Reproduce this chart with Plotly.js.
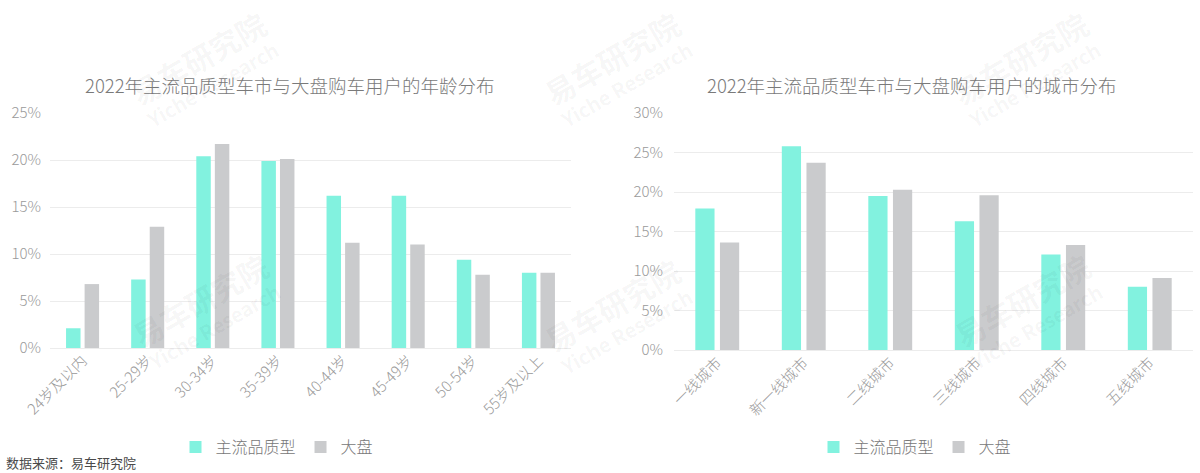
<!DOCTYPE html>
<html>
<head>
<meta charset="utf-8">
<script src="https://cdn.plot.ly/plotly-3.0.1.min.js"></script>
<style>html,body{margin:0;padding:0;background:#fff;}#chart{width:1200px;height:473px;}</style>
</head>
<body>
<div id="chart"></div>
<script>
// ---- data ----
const ageCategories = ['24岁及以内','25-29岁','30-34岁','35-39岁','40-44岁','45-49岁','50-54岁','55岁及以上'];
const ageMainstream = [2.1, 7.3, 20.4, 19.9, 16.2, 16.2, 9.4, 8.0];
const ageMarket     = [6.8, 12.9, 21.7, 20.1, 11.2, 11.0, 7.8, 8.0];

const cityCategories = ['一线城市','新一线城市','二线城市','三线城市','四线城市','五线城市'];
const cityMainstream = [17.9, 25.8, 19.5, 16.3, 12.1, 8.0];
const cityMarket     = [13.6, 23.7, 20.3, 19.6, 13.3, 9.1];

const seriesNames = ['主流品质型','大盘'];
const leftTitle = '2022年主流品质型车市与大盘购车用户的年龄分布';
const rightTitle = '2022年主流品质型车市与大盘购车用户的城市分布';
const sourceText = '数据来源：易车研究院';

const TEAL = '#82F2DF', GRAY = '#CACBCD';
const FONT = '"Noto Sans CJK SC", "Noto Sans", sans-serif';
const H = 473, W = 1200;
const py = p => 1 - p / H, px = p => p / W;

const traces = [
  {type:'bar', x:ageCategories, y:ageMainstream, name:seriesNames[0], marker:{color:TEAL}, xaxis:'x', yaxis:'y', legend:'legend'},
  {type:'bar', x:ageCategories, y:ageMarket, name:seriesNames[1], marker:{color:GRAY}, xaxis:'x', yaxis:'y', legend:'legend'},
  {type:'bar', x:cityCategories, y:cityMainstream, name:seriesNames[0], marker:{color:TEAL}, xaxis:'x2', yaxis:'y2', legend:'legend2'},
  {type:'bar', x:cityCategories, y:cityMarket, name:seriesNames[1], marker:{color:GRAY}, xaxis:'x2', yaxis:'y2', legend:'legend2'}
];

const tickFont = {family: FONT, size: 15, color: '#9a9a9a', weight: 300};
const xTickFont = {family: FONT, size: 15, color: '#9a9a9a', weight: 300};
const yCommon = {ticksuffix:'%', showgrid:true, gridcolor:'#ececec', gridwidth:1, zeroline:true, zerolinecolor:'#ececec', showline:false, tickfont:tickFont, ticks:'', fixedrange:true};
const xCommon = {tickangle:-45, tickfont:xTickFont, showline:false, ticks:'', fixedrange:true};

const annotations = [
  {text:leftTitle, xref:'paper', yref:'paper', x:px(290), y:py(85), showarrow:false, font:{family:FONT, size:18.5, color:'#7a7a7a', weight:300}, xanchor:'center', yanchor:'middle'},
  {text:rightTitle, xref:'paper', yref:'paper', x:px(912), y:py(85), showarrow:false, font:{family:FONT, size:18.5, color:'#7a7a7a', weight:300}, xanchor:'center', yanchor:'middle'},
  {text:sourceText, xref:'paper', yref:'paper', x:px(4), y:0, showarrow:false, font:{family:FONT, size:13, color:'#4a4a4a', weight:400}, xanchor:'left', yanchor:'bottom', yshift:-1}
];
// faint watermarks
const wmCenters = [[198,58],[612,58],[1020,58],[200,300],[612,305],[1022,300]];
wmCenters.forEach(([cx,cy]) => {
  annotations.push({text:'易车研究院', xref:'paper', yref:'paper', x:px(cx), y:py(cy), xanchor:'center', yanchor:'middle', showarrow:false, textangle:-30, font:{family:FONT, size:30, color:'rgba(0,0,0,0.045)', weight:700}});
  annotations.push({text:'Yiche Research', xref:'paper', yref:'paper', x:px(cx+14), y:py(cy+26), xanchor:'center', yanchor:'middle', showarrow:false, textangle:-30, font:{family:FONT, size:20, color:'rgba(0,0,0,0.045)', weight:700}});
});

const layout = {
  width: W, height: H,
  margin:{l:0, r:0, t:0, b:0},
  paper_bgcolor:'#fff', plot_bgcolor:'#fff',
  barmode:'group', bargap:0.43, bargroupgap:0.22,
  font:{family:FONT},
  xaxis: Object.assign({}, xCommon, {domain:[px(50), px(571)], anchor:'y'}),
  yaxis: Object.assign({}, yCommon, {domain:[py(348), py(113)], range:[0,25], dtick:5, anchor:'x', ticklabelstandoff:8}),
  xaxis2: Object.assign({}, xCommon, {domain:[px(674), px(1193)], anchor:'y2'}),
  yaxis2: Object.assign({}, yCommon, {domain:[py(350), py(113)], range:[0,30], dtick:5, anchor:'x2', ticklabelstandoff:10}),
  legend:{orientation:'h', x:px(277), y:py(447), xanchor:'center', yanchor:'middle', font:{family:FONT, size:16, color:'#777', weight:300}, itemwidth:30, tracegroupgap:0},
  legend2:{orientation:'h', x:px(915), y:py(447), xanchor:'center', yanchor:'middle', font:{family:FONT, size:16, color:'#777', weight:300}, itemwidth:30, tracegroupgap:0},
  annotations: annotations,
  showlegend:true
};

Plotly.newPlot('chart', traces, layout, {displayModeBar:false, staticPlot:true});
</script>
</body>
</html>
